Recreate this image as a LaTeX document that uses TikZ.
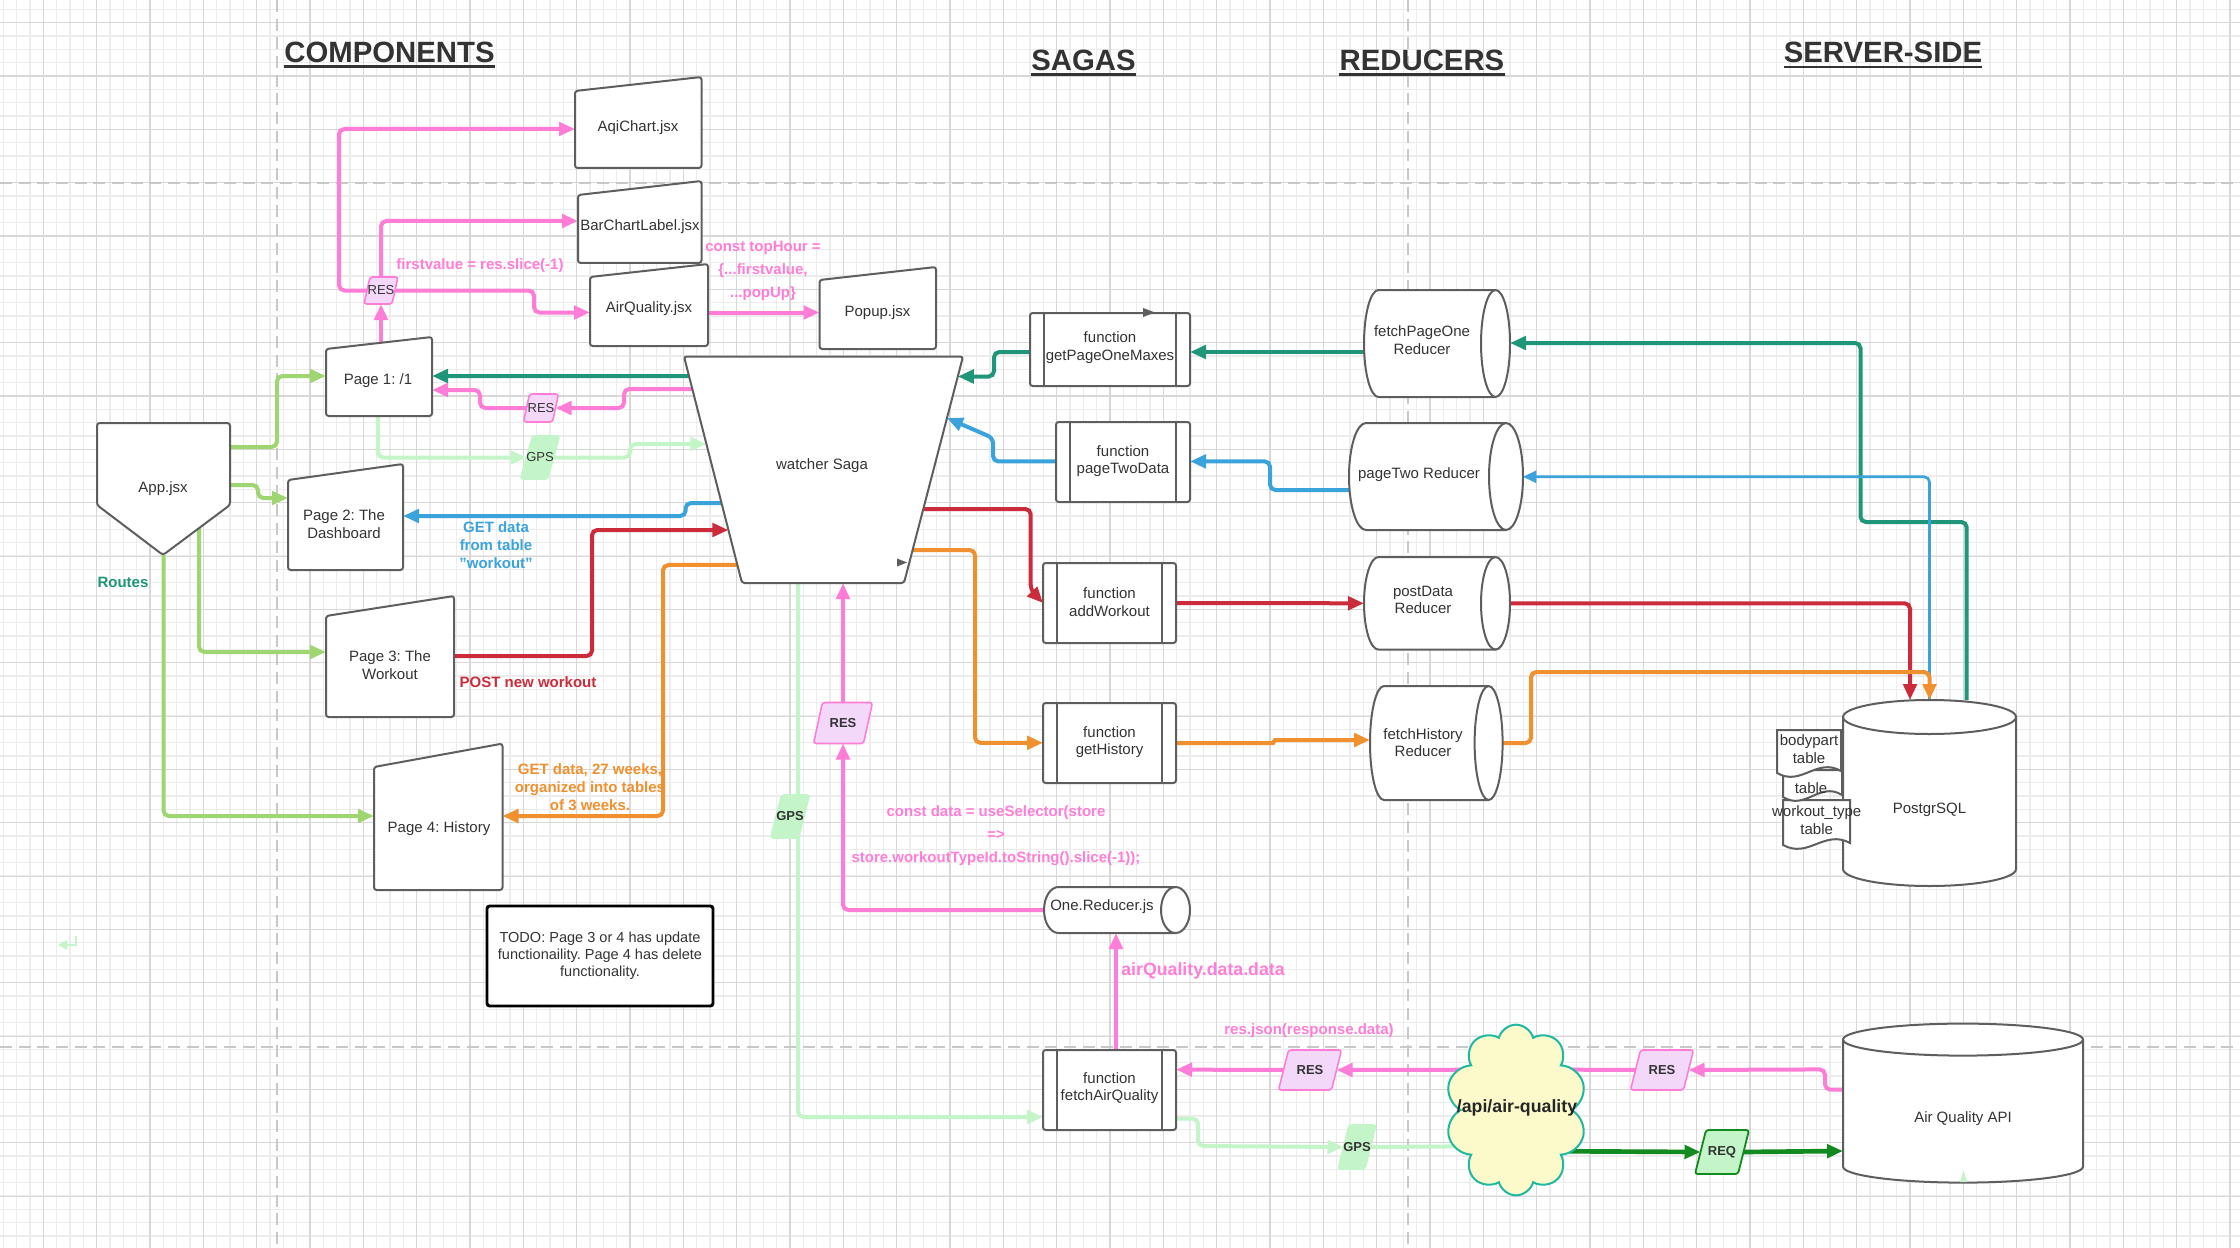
\documentclass[tikz,border=0pt]{standalone}
\usepackage{fontspec}
\setmainfont{Liberation Sans}
\usetikzlibrary{arrows.meta,shapes.geometric,shapes.symbols,calc,fit}
\pgfdeclarelayer{bgl}
\pgfdeclarelayer{cnl}
\pgfsetlayers{bgl,cnl,main}
\frenchspacing

\definecolor{tgray}{HTML}{333333}
\definecolor{sgray}{HTML}{5E5E5E}
\definecolor{gmaj}{HTML}{D8D8D8}
\definecolor{gmin}{HTML}{ECECEC}
\definecolor{dashc}{HTML}{C8C8C8}
\definecolor{cpink}{RGB}{255,125,215}
\definecolor{cpurp}{RGB}{243,216,250}
\definecolor{cpg}{RGB}{195,245,200}
\definecolor{clg}{RGB}{159,214,114}
\definecolor{cteal}{RGB}{31,150,122}
\definecolor{cblue}{RGB}{59,163,220}
\definecolor{cred}{RGB}{204,43,59}
\definecolor{corange}{RGB}{240,144,46}
\definecolor{cdg}{RGB}{19,138,31}
\definecolor{cloudfill}{RGB}{252,250,203}
\definecolor{cloudline}{RGB}{31,184,160}

% horizontal cylinder: L R T B rx
\newcommand\mycylh[5]{%
  \draw[draw=sgray,line width=1.5pt,fill=white,sharp corners] ({#1+#5},#3) -- ({#2-#5},#3)
    arc[start angle=-90,end angle=90,x radius=#5,y radius={(#4-#3)/2}] -- ({#1+#5},#4)
    arc[start angle=90,end angle=270,x radius=#5,y radius={(#4-#3)/2}] -- cycle;
  \draw[sgray,line width=1.5pt] ({#2-#5},#3) arc[start angle=-90,end angle=-270,x radius=#5,y radius={(#4-#3)/2}];}
% vertical cylinder: L R T B ry
\newcommand\mycylv[5]{%
  \draw[draw=sgray,line width=1.5pt,fill=white,sharp corners] (#1,{#3+#5}) -- (#1,{#4-#5})
    arc[start angle=180,end angle=0,x radius={(#2-#1)/2},y radius=#5] -- (#2,{#3+#5})
    arc[start angle=0,end angle=-180,x radius={(#2-#1)/2},y radius=#5] -- cycle;
  \draw[sgray,line width=1.5pt] (#1,{#3+#5}) arc[start angle=180,end angle=0,x radius={(#2-#1)/2},y radius=#5];}
% process box: L R T B
\newcommand\myproc[4]{%
  \draw[draw=sgray,line width=1.5pt,fill=white,rounded corners=2pt] (#1,#3) rectangle (#2,#4);
  \draw[sgray,line width=1.5pt] ({#1+14},#3) -- ({#1+14},#4) ({#2-14},#3) -- ({#2-14},#4);}
% document shape: L R T B
\newcommand\mydocshape[4]{%
  \draw[draw=sgray,line width=1.5pt,fill=white,sharp corners] (#1,#3) -- (#2,#3) -- (#2,{#4-2})
    .. controls ({#1+0.62*(#2-#1)},{#4-16}) and ({#1+0.38*(#2-#1)},{#4+14}) .. (#1,#4) -- cycle;}
% parallelogram tag: name cx cy w h off polystyle fontstyle text
\newcommand\mytag[9]{%
  \draw[#7,rounded corners=2pt] ({#2-#4/2+#6},{#3-#5/2}) -- ({#2+#4/2},{#3-#5/2}) -- ({#2+#4/2-#6},{#3+#5/2}) -- ({#2-#4/2},{#3+#5/2}) -- cycle;
  \node[inner sep=0pt,outer sep=0pt,fit={({#2-(#4-#6)/2},{#3-#5/2}) ({#2+(#4-#6)/2},{#3+#5/2})}] (#1) {};
  \node[inner sep=0pt,text=tgray,#8] (#1T) at (#2,#3) {#9};}

\begin{document}
\begin{tikzpicture}[x=0.75pt,y=-0.75pt,
  shp/.style={draw=sgray,line width=1.5pt,fill=white,rounded corners=2pt},
  geo/.style={inner sep=0pt,outer sep=0pt},
  txt/.style={text=tgray,align=center,font=\fontsize{11.25}{13.2}\selectfont,inner sep=0pt},
  lab/.style={align=center,font=\bfseries\fontsize{11.25}{13.3}\selectfont,inner sep=0pt},
  labw/.style={align=center,font=\bfseries\fontsize{11.25}{17}\selectfont,inner sep=0pt},
  head/.style={text=tgray,font=\bfseries\fontsize{22}{26}\selectfont,inner sep=0pt,anchor=base},
  conn/.style={line width=3pt,rounded corners=4pt,-{Triangle[length=12pt,width=10pt]}},
  plain/.style={line width=3pt,rounded corners=4pt},
  restag/.style={draw=cpink,fill=cpurp,line width=1.2pt},
  gpstag/.style={fill=cpg,draw=cpg,line width=1.2pt},
  reqtag/.style={fill=cpg,draw=cdg,line width=1.4pt},
  tagreg/.style={font=\fontsize{9.75}{11}\selectfont},
  tagbold/.style={font=\bfseries\fontsize{9.75}{11}\selectfont},
]
\useasboundingbox (0,0) rectangle (2240,1248);

\begin{pgfonlayer}{bgl}
  \fill[white] (0,0) rectangle (2240,1248);
  \foreach \i in {0,...,167} \draw[gmin,line width=0.8pt] ({3.33+13.333*\i},0) -- ({3.33+13.333*\i},1248);
  \foreach \j in {0,...,93} \draw[gmin,line width=0.8pt] (0,{9.37+13.333*\j}) -- (2240,{9.37+13.333*\j});
  \foreach \i in {0,...,41} \draw[gmaj,line width=0.8pt] ({43.33+53.333*\i},0) -- ({43.33+53.333*\i},1248);
  \foreach \j in {0,...,22} \draw[gmaj,line width=0.8pt] (0,{22.7+53.333*\j}) -- (2240,{22.7+53.333*\j});
  \draw[dashc,line width=1.5pt,dash pattern=on 9pt off 5pt] (0,183) -- (2240,183) (0,1047) -- (2240,1047)
    (277,0) -- (277,1248) (1408,0) -- (1408,1248);
\end{pgfonlayer}

% headings
\node[head] (hcomp) at (389.5,62.5) {COMPONENTS};
\node[head] (hsaga) at (1083.5,70.5) {SAGAS};
\node[head] (hred) at (1422,70.5) {REDUCERS};
\node[head] (hserv) at (1883,63) {SERVER-SIDE};
\foreach \h in {hcomp,hsaga,hred,hserv}
  \draw[tgray,line width=1.6pt] ([yshift=-3pt]\h.base west) -- ([yshift=-3pt]\h.base east);

% geometry nodes
\node[geo,fit={(575,77) (701.5,168)}] (aqi) {};
\node[geo,fit={(578,181) (701.5,263)}] (bcl) {};
\node[geo,fit={(590,264) (708,346)}] (aq) {};
\node[geo,fit={(819.5,267) (936,349)}] (popup) {};
\node[geo,fit={(326,337) (432,416)}] (page1) {};
\node[geo,fit={(288,464) (403,570)}] (page2) {};
\node[geo,fit={(326,596) (454,717)}] (page3) {};
\node[geo,fit={(374,743.6) (502.5,890)}] (page4) {};
\node[geo,fit={(97,423) (230,555)}] (app) {};
\node[geo,fit={(1030,313) (1190,386)}] (gpom) {};
\node[geo,fit={(1056,422) (1190,502)}] (ptd) {};
\node[geo,fit={(1043,563) (1176,643)}] (aw) {};
\node[geo,fit={(1043,703) (1176,783)}] (gh) {};
\node[geo,fit={(1043,1050) (1176,1130)}] (faq) {};
\node[geo,fit={(1044,887) (1190,933)}] (oner) {};
\node[geo,fit={(1364,290) (1510,397)}] (fpo) {};
\node[geo,fit={(1349,423) (1523,530)}] (ptr) {};
\node[geo,fit={(1364,557) (1510,649.6)}] (pd) {};
\node[geo,fit={(1370,686) (1502.6,800)}] (fh) {};
\node[geo,fit={(1843,700) (2016,886)}] (pg) {};
\node[geo,fit={(1843,1023.6) (2083,1182.6)}] (aqapi) {};
\coordinate (wsTL) at (684,356.5);
\coordinate (wsTR) at (963,356.5);
\coordinate (wsBR) at (904,583);
\coordinate (wsBL) at (742,583);
\coordinate (p1top) at (381,343);
\coordinate (appP3) at (199,528);

% shapes
\draw[shp] (575,91) -- (701.5,77) -- (701.5,168) -- (575,168) -- cycle;
\node[txt] (aqiT) at (638,128) {AqiChart.jsx};
\draw[shp] (578,195) -- (701.5,181) -- (701.5,263) -- (578,263) -- cycle;
\node[txt] (bclT) at (640,227) {BarChartLabel.jsx};
\draw[shp] (590,277) -- (708,264) -- (708,346) -- (590,346) -- cycle;
\node[txt] (aqT) at (649,309) {AirQuality.jsx};
\draw[shp] (819.5,280) -- (936,267) -- (936,349) -- (819.5,349) -- cycle;
\node[txt] (popupT) at (877.5,312.5) {Popup.jsx};
\draw[shp] (326,349) -- (432,337) -- (432,416) -- (326,416) -- cycle;
\node[txt] (page1T) at (378,381) {Page 1: /1};
\draw[shp] (288,480) -- (403,464) -- (403,570) -- (288,570) -- cycle;
\node[txt] (page2T) at (344,524) {Page 2: The\\Dashboard};
\draw[shp] (326,616) -- (454,596) -- (454,717) -- (326,717) -- cycle;
\node[txt] (page3T) at (390,665) {Page 3: The\\Workout};
\draw[shp] (374,767) -- (502.5,743.6) -- (502.5,890) -- (374,890) -- cycle;
\node[txt] (page4T) at (439,829) {Page 4: History};
\draw[shp] (97,423) -- (230,423) -- (230,505) -- (163,555) -- (97,505) -- cycle;
\node[txt] (appT) at (163,489) {App.jsx};
\node[txt,draw=black,line width=2.2pt,rounded corners=2pt,fill=white,minimum width=169.5pt,minimum height=75pt,
  font=\fontsize{10.9}{12.6}\selectfont] (todo) at (600,956) {TODO: Page 3 or 4 has update\\functionaility. Page 4 has delete\\functionality.};

\draw[shp] (wsTL) -- (wsTR) -- (wsBR) -- (wsBL) -- cycle;
\node[txt] (wsT) at (822,466) {watcher Saga};
\fill[sgray] (897,558.5) -- (907,562.5) -- (897,566.5) -- cycle;

\myproc{1030}{1190}{313}{386}
\node[txt] (gpomT) at (1110,347.5) {function\\getPageOneMaxes};
\fill[sgray] (1143,308) -- (1155,312.5) -- (1143,317) -- cycle;
\myproc{1056}{1190}{422}{502}
\node[txt] (ptdT) at (1123,461) {function\\pageTwoData};
\myproc{1043}{1176}{563}{643}
\node[txt] (awT) at (1109.5,602) {function\\addWorkout};
\myproc{1043}{1176}{703}{783}
\node[txt] (ghT) at (1109.5,742) {function\\getHistory};
\myproc{1043}{1176}{1050}{1130}
\node[txt] (faqT) at (1109.5,1088) {function\\fetchAirQuality};

\mycylh{1044}{1190}{887}{933}{14.5}
\node[txt] (onerT) at (1102,907) {One.Reducer.js};
\mycylh{1364}{1510}{290}{397}{14.5}
\node[txt] (fpoT) at (1422,340) {fetchPageOne\\Reducer};
\mycylh{1349}{1523}{423}{530}{17}
\node[txt] (ptrT) at (1419,475) {pageTwo Reducer};
\mycylh{1364}{1510}{557}{649.6}{14.5}
\node[txt] (pdT) at (1423,600) {postData\\Reducer};
\mycylh{1370}{1502.6}{686}{800}{14}
\node[txt] (fhT) at (1423,742.5) {fetchHistory\\Reducer};

\mycylv{1843}{2016}{700}{886}{17}
\node[txt] (pgT) at (1929.5,810) {PostgrSQL};
\mydocshape{1783}{1850}{800}{845}
\mydocshape{1783}{1842}{770}{797}
\mydocshape{1777}{1841}{730}{773}
\node[txt] (tbl1) at (1809,749) {bodypart\\table};
\node[txt] (tbl2) at (1811,788) {table};
\node[txt] (tbl3) at (1816.7,820) {workout\_type\\table};

\mycylv{1843}{2083}{1023.6}{1182.6}{16}
\node[txt] (aqapiT) at (1963,1118.6) {Air Quality API};
\fill[cpg] (1960,1182) -- (1963.5,1170) -- (1967,1182) -- cycle;

\node[cloud,cloud puffs=10,cloud ignores aspect,minimum width=106pt,minimum height=128pt,draw=cloudline,fill=cloudfill,
  line width=1.5pt,inner sep=0pt] (cloud) at (1516,1110) {};
\node[inner sep=0pt,text=black!85,font=\bfseries\fontsize{13.3}{15}\selectfont] (cloudT) at (1517,1108) {/api/air-quality};

% tags
\mytag{res1}{381}{290.5}{34}{27}{6}{restag}{tagreg}{RES}
\mytag{res2}{541}{408}{35}{28}{6}{restag}{tagreg}{RES}
\mytag{gps1}{540}{457.5}{39}{43}{12}{gpstag}{tagreg}{GPS}
\mytag{res3}{843}{723}{59}{41}{9}{restag}{tagbold}{RES}
\mytag{gps2}{790}{816.5}{39}{43}{11}{gpstag}{tagbold}{GPS}
\mytag{resA}{1310}{1070}{63}{40}{10}{restag}{tagbold}{RES}
\mytag{gps3}{1357}{1147}{38}{44}{11}{gpstag}{tagbold}{GPS}
\mytag{resB}{1662}{1070}{63}{40}{10}{restag}{tagbold}{RES}
\mytag{req}{1722}{1152}{54}{44}{11}{reqtag}{tagbold}{REQ}

% labels
\node[lab,text=cpink] (lfirst) at (480,266) {firstvalue = res.slice(-1)};
\node[labw,text=cpink] (ltop) at (763,271) {const topHour =\\\{...firstvalue,\\...popUp\}};
\node[lab,text=cblue] (lget2) at (496,545) {GET data\\from table\\"workout"};
\node[lab,text=cred] (lpost) at (528,682) {POST new workout};
\node[lab,text=corange] (lget4) at (590,787) {GET data, 27 weeks,\\organized into tables\\of 3 weeks.};
\node[lab,text=cteal] (lroutes) at (123,582) {Routes};
\node[labw,text=cpink] (lsel) at (996,835.5) {const data = useSelector(store\\=>\\store.workoutTypeId.toString().slice(-1));};
\node[lab,text=cpink,font=\bfseries\fontsize{13.3}{15}\selectfont] (laq) at (1203,971) {airQuality.data.data};
\node[lab,text=cpink] (lres) at (1309,1031) {res.json(response.data)};

% connectors
\begin{pgfonlayer}{cnl}
  % routes
  \draw[conn,clg] (app.east |- 0,447) -| (277,376) -- (page1.west |- 0,376);
  \draw[conn,clg] (app.east |- 0,485) -| (258,498) -- (page2.west |- 0,498);
  \draw[conn,clg] (appP3) |- (page3.west |- 0,652);
  \draw[conn,clg] (app.south) |- (page4.west |- 0,816);
  \draw[cpg,line width=2pt,-{Triangle[length=7pt,width=7pt]}] (76,936) |- (58,945);
  % teal
  \draw[conn,cteal] (fpo.west |- 0,352) -- (gpom.east |- 0,352);
  \draw[conn,cteal] (gpom.west |- 0,352) -| (994,376.5) -- ($(wsTR)!0.0883!(wsBR)$);
  \draw[conn,cteal] ($(wsTL)!0.0861!(wsBL)$) -- (page1.east |- 0,376);
  \draw[conn,cteal] (1966.7,0 |- pg.north) |- (1860.5,522) |- (fpo.east |- 0,343);
  % pink
  \draw[conn,cpink] (p1top) -- (res1.south);
  \draw[conn,cpink] (res1.west) -| (339,129) -- (aqi.west |- 0,129);
  \draw[conn,cpink] (res1.north) |- (bcl.west |- 0,221);
  \draw[conn,cpink] (res1.east) -| (534,312.5) -- (aq.west |- 0,312.5);
  \draw[conn,cpink] (aq.east |- 0,312.5) -- (popup.west |- 0,312.5);
  \draw[conn,cpink] ($(wsTL)!0.1435!(wsBL)$) -| (624,408) -- (res2.east);
  \draw[conn,cpink] (res2.west) -| (480,390) -- (page1.east |- 0,390);
  \draw[conn,cpink] (oner.west) -| (res3.south);
  \draw[conn,cpink] (res3.north) -- (843,0 |- wsBL);
  \draw[conn,cpink] (1116,0 |- faq.north) -- (1116,0 |- oner.south);
  \draw[conn,cpink] (cloud.center |- 0,1069.6) -- (resA.east);
  \draw[conn,cpink] (resA.west) -- (faq.east |- 0,1069.6);
  \draw[conn,cpink] (aqapi.west |- 0,1089.7) -| (1825,1069.4) -- (resB.east);
  \draw[plain,cpink] (resB.west) -- (cloud.center |- 0,1069.4);
  % pale green
  \draw[conn,cpg] (378,0 |- page1.south) |- (gps1.west);
  \draw[conn,cpg] (gps1.east) -| (630,444) -- ($(wsTL)!0.3863!(wsBL)$);
  \draw[conn,cpg] (798,0 |- wsBL) |- (faq.west |- 0,1117);
  \draw[conn,cpg] (faq.east |- 0,1118.6) -| (1198,1146) -- (gps3.west);
  \draw[plain,cpg] (gps3.east) -- (cloud.center |- 0,1146);
  % dark green
  \draw[conn,cdg,line width=3.5pt] (cloud.center |- 0,1151) -- (req.west);
  \draw[conn,cdg,line width=3.5pt] (req.east) -- (aqapi.west |- 0,1151);
  % blue
  \draw[conn,cblue,line width=2pt,-{Triangle[length=10pt,width=9pt]}] (1929.5,0 |- pg.north) |- (ptr.east |- 0,476.8);
  \draw[conn,cblue] (ptr.west |- 0,490) -| (1270,461.4) -- (ptd.east |- 0,461.4);
  \draw[conn,cblue] (ptd.west |- 0,461.4) -| (993,438) -- ($(wsTR)!0.2715!(wsBR)$);
  \draw[conn,cblue] ($(wsTL)!0.6468!(wsBL)$) -| (685.6,516) -- (page2.east |- 0,516);
  % red
  \draw[conn,cred] (page3.east |- 0,656) -| (592,530) -- ($(wsTL)!0.766!(wsBL)$);
  \draw[conn,cred] ($(wsTR)!0.6733!(wsBR)$) -| (1030.7,590) -- (aw.west);
  \draw[conn,cred] (aw.east) -- (pd.west);
  \draw[conn,cred] (pd.east) -| (1910,0 |- pg.north);
  % orange
  \draw[conn,corange] ($(wsTL)!0.9205!(wsBL)$) -| (663,816) -- (page4.east |- 0,816);
  \draw[conn,corange] ($(wsTR)!0.8543!(wsBR)$) -| (975,742.8) -- (gh.west |- 0,742.8);
  \draw[conn,corange,sharp corners] (gh.east) -- (1273,743) -- (1275,740) -- (fh.west |- 0,740);
  \draw[conn,corange] (fh.east) -| (1531,672) -| (1929.5,0 |- pg.north);
\end{pgfonlayer}
\end{tikzpicture}
\end{document}
